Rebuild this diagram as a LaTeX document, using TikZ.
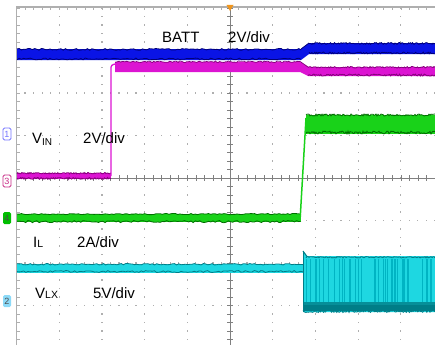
\documentclass[tikz,border=0pt]{standalone}
\usepackage{fontspec}
\setmainfont{Liberation Sans}
\definecolor{bfill}{RGB}{10,20,230}
\definecolor{bedge}{RGB}{0,0,120}
\definecolor{mfill}{RGB}{220,20,210}
\definecolor{medge}{RGB}{135,0,125}
\definecolor{gfill}{RGB}{25,210,25}
\definecolor{gedge}{RGB}{0,110,0}
\definecolor{cfill}{RGB}{30,215,225}
\definecolor{cedge}{RGB}{0,125,135}
\definecolor{cstreak}{RGB}{0,180,195}
\definecolor{gridc}{RGB}{175,175,175}
\definecolor{trig}{RGB}{240,150,30}
\newcommand\noisyedge[5]{\draw[#1, line width=0.8pt] plot[domain=#2:#3, samples=130] (\x,{#4+#5*rnd});}
\tikzset{
  lbl/.style={anchor=base west, font=\fontsize{15}{16}\selectfont, inner sep=0pt},
  chmark/.style={draw=#1, text=#1, rounded corners=1.5pt, inner sep=0.6pt, minimum width=8pt, minimum height=12pt, font=\fontsize{9}{9}\selectfont, line width=0.8pt},
  chfill/.style={fill=#1, text=black!70, rounded corners=1.5pt, inner sep=0.6pt, minimum width=8pt, minimum height=12pt, font=\fontsize{9}{9}\selectfont},
  gridline/.style={gridc, line width=0.6pt}
}
\begin{document}
\begin{tikzpicture}[x=1pt,y=-1pt]
\useasboundingbox (0,0) rectangle (435,345);
\clip (0,0) rectangle (435,345);
\pgfmathsetseed{4711}
% dotted grid
\foreach \i in {1,2,3,4,6,7,8,9}
  \foreach \k in {0,...,40}
    \fill[gridc] ({16.5+42.7*\i-0.6},{8+8.5*\k-0.6}) rectangle +(1.2,1.2);
\foreach \j in {1,2,3,5,6,7}
  \foreach \k in {0,...,50}
    \fill[gridc] ({16.5+8.54*\k-0.6},{8+42.5*\j-0.6}) rectangle +(1.2,1.2);
% centre axes
\draw[gridline, gray] (230,7) -- (230,345);
\draw[gridline, gray] (16.5,178) -- (435,178);
\foreach \k in {0,...,40} \draw[gridline, gray] (227,{8+8.5*\k}) -- (233,{8+8.5*\k});
\foreach \k in {0,...,50} \draw[gridline, gray] ({16.5+8.54*\k},175) -- ({16.5+8.54*\k},181);
% frame
\draw[gridc, line width=1.2pt] (16.5,345) -- (16.5,7) -- (435,7);
\foreach \k in {0,...,50} \draw[gridline] ({16.5+8.54*\k},7) -- ({16.5+8.54*\k},10);
\foreach \k in {0,...,40} \draw[gridline] (16.5,{8+8.5*\k}) -- (19.5,{8+8.5*\k});
% trigger marker
\fill[trig] (226.5,5) -- (233.5,5) -- (230,11) -- cycle;

% ---- VLX (cyan)
\fill[cfill] (17,264) rectangle (303,273);
\noisyedge{cedge}{17}{303}{263.5}{1.5}
\noisyedge{cedge}{17}{303}{270.5}{2}
\fill[cfill] (303,251) -- (307,256) -- (435,256) -- (435,312) -- (303,312) -- cycle;
\foreach \i in {1,...,45} {
  \pgfmathsetmacro\xx{304+131*rnd}
  \draw[cstreak, line width=0.8pt] (\xx,259) -- (\xx,305);
}
\fill[cedge!80!cfill] (303,302) rectangle (435,306);
\fill[cedge] (303,305) rectangle (435,311);
\noisyedge{cedge}{303}{435}{310}{2.5}
\noisyedge{cedge}{306}{435}{256.5}{1.5}
\draw[cedge, line width=1pt] (303,251) -- (307,256.5);
\draw[cedge, line width=1pt] (303,251) -- (303,312);

% ---- IL (green)
\fill[gfill] (17,214) rectangle (301,222);
\noisyedge{gedge}{17}{301}{213.5}{1.2}
\noisyedge{gedge}{17}{301}{220.5}{2.2}
\draw[gfill, line width=1.5pt] (300,221) -- (306,118);
\fill[gfill] (306,115) rectangle (435,134);
\noisyedge{gedge}{306}{435}{114}{2}
\noisyedge{gedge}{306}{435}{131}{3}

% ---- VIN (magenta)
\fill[mfill] (17,173) rectangle (111,179);
\noisyedge{medge}{17}{111}{172.5}{1.5}
\noisyedge{medge}{17}{111}{177.5}{1.8}
\draw[mfill, line width=1.3pt] (111,176) -- (111,70) .. controls (111,65) .. (117,63.5);
\fill[mfill] (115,62) -- (300,62) -- (308,67) -- (435,67) -- (435,76) -- (308,76) -- (300,72) -- (115,72) -- cycle;
\noisyedge{medge}{115}{300}{61}{1.5}
\noisyedge{medge}{308}{435}{66.5}{1.5}
\noisyedge{medge}{308}{435}{74}{2}
\draw[medge, line width=0.8pt] (300,61.5) -- (308,67);

% ---- BATT (blue)
\fill[bfill] (17,49) -- (301,49) -- (309,43) -- (435,43) -- (435,54) -- (309,54) -- (301,60) -- (17,60) -- cycle;
\noisyedge{bedge}{17}{301}{48.5}{1.8}
\noisyedge{bedge}{17}{301}{58}{1.8}
\noisyedge{bedge}{309}{435}{42.5}{1.8}
\noisyedge{bedge}{309}{435}{52}{1.8}
\draw[bedge, line width=0.8pt] (301,49) -- (309,43);

% ---- channel markers
\node[chmark=blue!55] (ch1) at (7,134) {1};
\node[chmark=magenta!80!black] (ch3) at (7,181) {3};
\node[chfill=green!75!black] (ch4) at (7,218) {4};
\node[chfill=cyan!45] (ch2) at (7,301) {2};

% ---- labels
\node[lbl] (batt) at (162,42) {BATT};
\node[lbl] (battdiv) at (228,42) {2V/div};
\node[lbl] (vin) at (32,143) {V\raisebox{-2.5pt}{\fontsize{10}{10}\selectfont IN}};
\node[lbl] (vindiv) at (83,143) {2V/div};
\node[lbl] (il) at (33,247) {I\fontsize{10.5}{10}\selectfont L};
\node[lbl] (ildiv) at (77,247) {2A/div};
\node[lbl] (vlx) at (35,298) {V\fontsize{10.5}{10}\selectfont LX};
\node[lbl] (vlxdiv) at (93,298) {5V/div};
\end{tikzpicture}
\end{document}
